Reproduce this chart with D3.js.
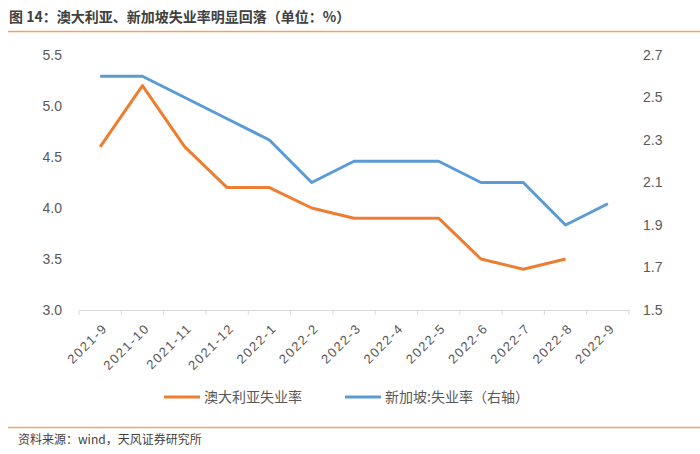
<!DOCTYPE html>
<html><head><meta charset="utf-8">
<script src="https://cdn.jsdelivr.net/npm/d3@7"></script>
<style>body{margin:0;background:#fff;}svg{display:block;font-family:"Liberation Sans","Noto Sans CJK SC",sans-serif;}</style>
</head><body><svg id="c" width="700" height="454"></svg>
<script>
const categories = ["2021-9","2021-10","2021-11","2021-12","2022-1","2022-2","2022-3","2022-4","2022-5","2022-6","2022-7","2022-8","2022-9"];
const australia = [4.6,5.2,4.6,4.2,4.2,4.0,3.9,3.9,3.9,3.5,3.4,3.5,null];
const singapore = [2.6,2.6,2.5,2.4,2.3,2.1,2.2,2.2,2.2,2.1,2.1,1.9,2.0];
const leftTicks = [3.0,3.5,4.0,4.5,5.0,5.5];
const rightTicks = [1.5,1.7,1.9,2.1,2.3,2.5,2.7];
const seriesNames = ["澳大利亚失业率","新加坡:失业率（右轴）"];
const titleText = "图 14：澳大利亚、新加坡失业率明显回落（单位：%）";
const sourceText = "资料来源：wind，天风证券研究所";

const svg = d3.select("#c");
const x = d3.scaleBand().domain(categories).range([79,629]);
const yL = d3.scaleLinear().domain([3.0,5.5]).range([310,55]);
const yR = d3.scaleLinear().domain([1.5,2.7]).range([310,55]);
const cx = d => x(d) + x.bandwidth()/2;

// title
svg.append("text").attr("x",9).attr("y",22).attr("font-size",14).attr("font-weight","bold")
  .attr("fill","#404040").attr("font-family","'Noto Sans CJK SC',sans-serif").text(titleText);
svg.append("line").attr("x1",8).attr("x2",700).attr("y1",31.5).attr("y2",31.5).attr("stroke","#F4A460").attr("stroke-width",1.5);
svg.append("line").attr("x1",8).attr("x2",700).attr("y1",427.5).attr("y2",427.5).attr("stroke","#F4A460").attr("stroke-width",1.5);
svg.append("text").attr("x",18).attr("y",444).attr("font-size",12).attr("fill","#3f3f3f")
  .attr("font-family","'Noto Sans CJK SC',sans-serif").text(sourceText);

// left axis
const gL = svg.append("g").attr("transform","translate(79,0)")
  .call(d3.axisLeft(yL).tickValues(leftTicks).tickFormat(d3.format(".1f")).tickSize(0).tickPadding(17));
gL.select(".domain").remove();
gL.selectAll("text").attr("font-size",14).attr("fill","#595959");

// right axis
const gR = svg.append("g").attr("transform","translate(629,0)")
  .call(d3.axisRight(yR).tickValues(rightTicks).tickFormat(d3.format(".1f")).tickSize(0).tickPadding(14));
gR.select(".domain").remove();
gR.selectAll("text").attr("font-size",14).attr("fill","#595959");

// x axis
const gX = svg.append("g").attr("transform","translate(0,310)")
  .call(d3.axisBottom(x).tickSize(0).tickFormat(d=>d));
gX.select(".domain").attr("stroke","#d9d9d9");
gX.selectAll(".tick line").remove();
const bounds = categories.map(d=>x(d)).concat([x.range()[1]]);
svg.append("g").selectAll("line").data(bounds).join("line")
  .attr("x1",d=>d).attr("x2",d=>d).attr("y1",310).attr("y2",315).attr("stroke","#d9d9d9");
gX.selectAll("text").attr("font-size",13).attr("fill","#595959").attr("letter-spacing","1.6px")
  .attr("text-anchor","end").attr("dy",null).attr("y",0)
  .attr("transform","translate(8,19) rotate(-45)");

// lines
const lineL = d3.line().defined(d=>d!=null).x((d,i)=>cx(categories[i])).y(d=>yL(d));
const lineR = d3.line().defined(d=>d!=null).x((d,i)=>cx(categories[i])).y(d=>yR(d));
svg.append("path").datum(singapore).attr("d",lineR).attr("fill","none").attr("stroke","#5B9BD5").attr("stroke-width",3).attr("stroke-linejoin","round");
svg.append("path").datum(australia).attr("d",lineL).attr("fill","none").attr("stroke","#ED7D31").attr("stroke-width",3).attr("stroke-linejoin","round");

// legend
const legend = [{name:seriesNames[0],color:"#ED7D31",x:164},{name:seriesNames[1],color:"#5B9BD5",x:345}];
const lg = svg.append("g").selectAll("g").data(legend).join("g");
lg.append("line").attr("x1",d=>d.x).attr("x2",d=>d.x+36).attr("y1",397).attr("y2",397).attr("stroke",d=>d.color).attr("stroke-width",3);
lg.append("text").attr("x",d=>d.x+40).attr("y",402).attr("font-size",14).attr("fill","#595959")
  .attr("font-family","'Noto Sans CJK SC',sans-serif").text(d=>d.name);
</script></body></html>
